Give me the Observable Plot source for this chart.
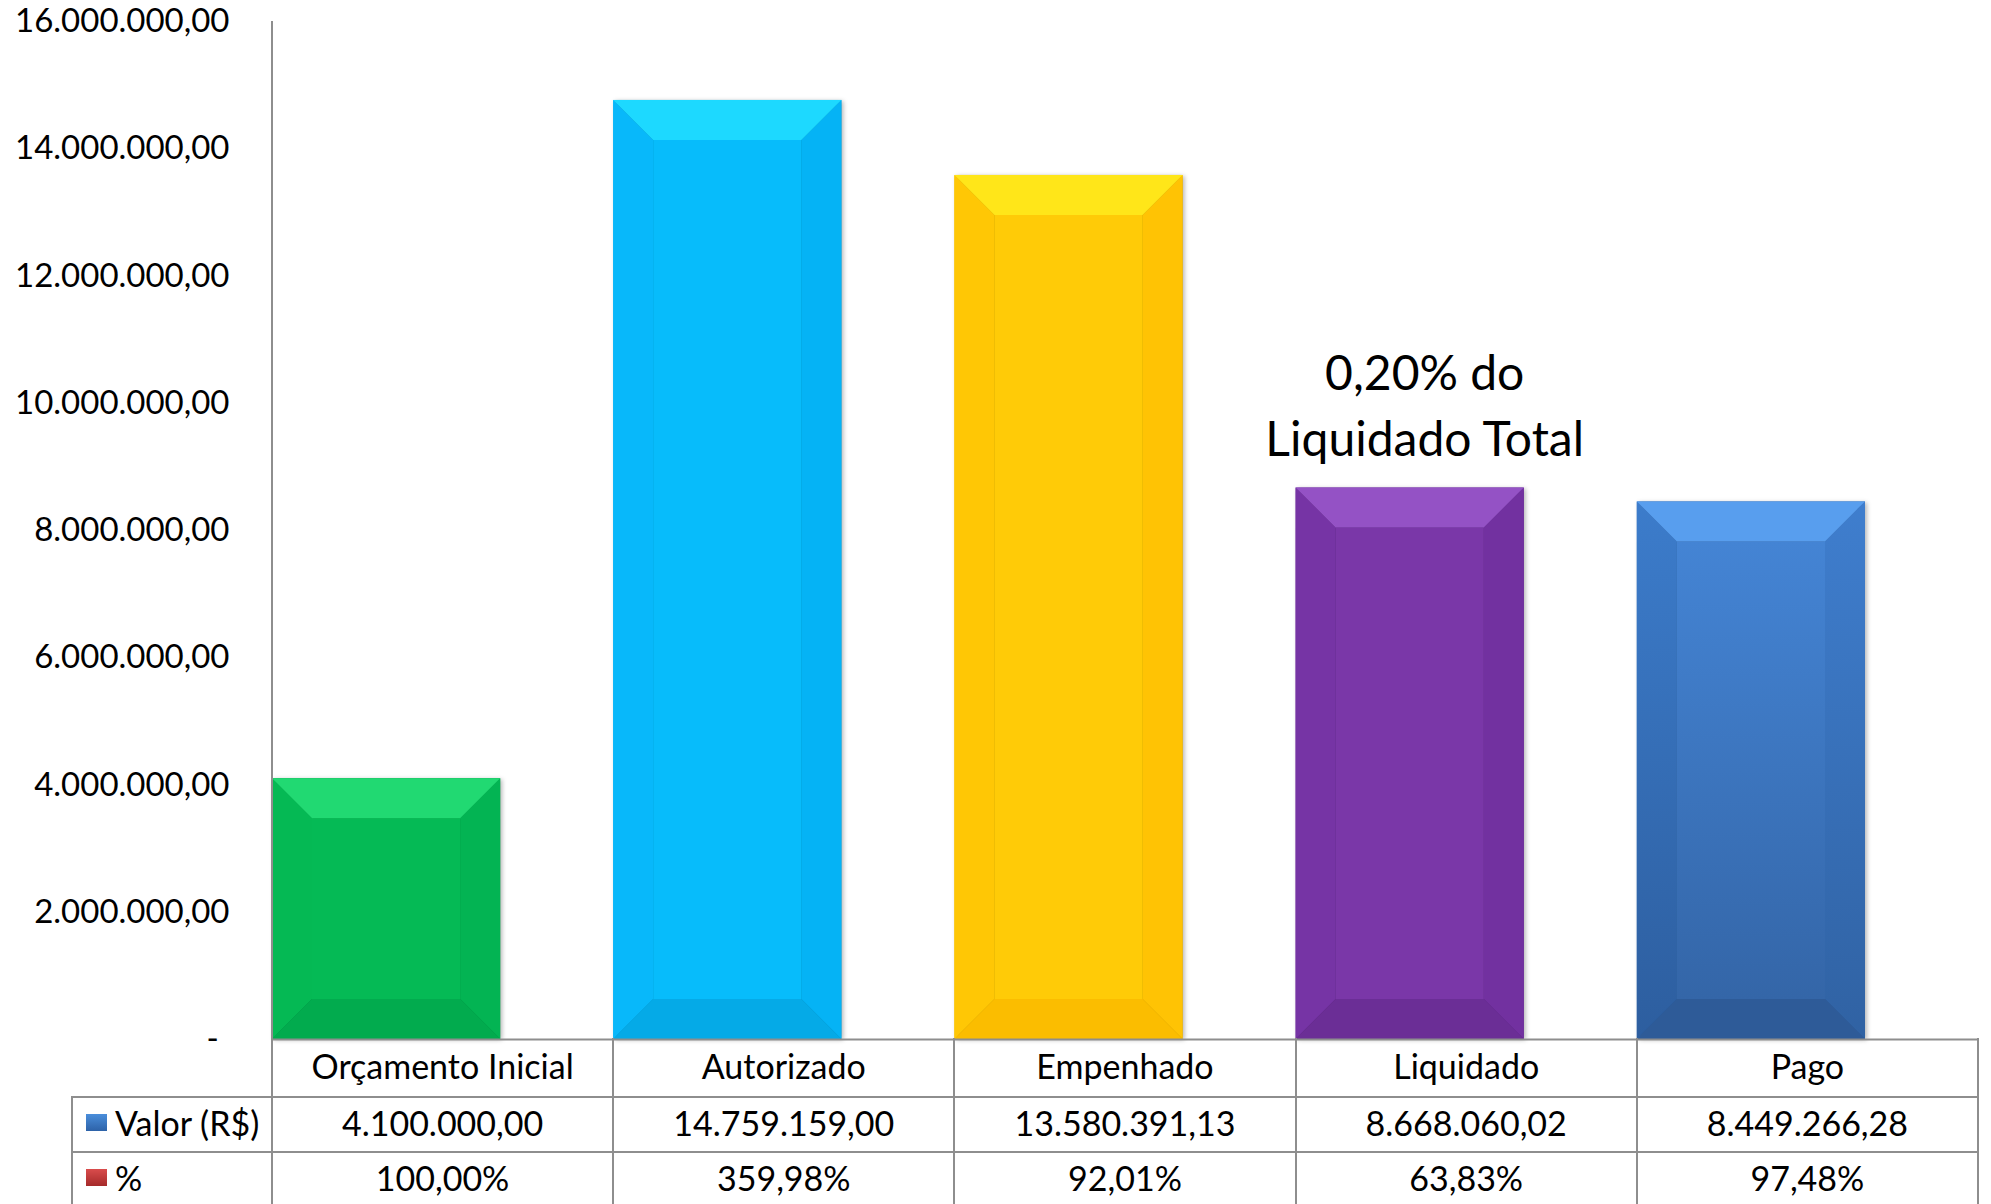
<!DOCTYPE html>
<html>
<head>
<meta charset="utf-8">
<script src="https://cdn.jsdelivr.net/npm/d3@7"></script>
<script src="https://cdn.jsdelivr.net/npm/@observablehq/plot@0.6"></script>
<style>
  html, body { margin: 0; padding: 0; background: #ffffff; }
  #wrap { position: relative; width: 1991px; height: 1204px; overflow: hidden; font-family: Lato, "Open Sans", sans-serif; color: #000; }
  #chart { position: absolute; left: 0; top: 0; }
  .hl, .vl { position: absolute; background: #8e8e8e; }
  .cell { position: absolute; display: flex; align-items: center; justify-content: center; font-size: 34px; white-space: nowrap; box-sizing: border-box; padding-bottom: 5px; }
  .rowlabel { position: absolute; display: flex; align-items: center; font-size: 34px; white-space: nowrap; box-sizing: border-box; padding-bottom: 5px; }
  .key { display: inline-block; width: 21px; height: 17px; margin-right: 8px; }
</style>
</head>
<body>
<div id="wrap"><div id="chart"></div></div>
<script>
// ---------------- data ----------------
const categories = ["Orçamento Inicial", "Autorizado", "Empenhado", "Liquidado", "Pago"];
const valores = [4100000.00, 14759159.00, 13580391.13, 8668060.02, 8449266.28];
const percentuais = [100.00, 359.98, 92.01, 63.83, 97.48];
const yTicks = [0, 2000000, 4000000, 6000000, 8000000, 10000000, 12000000, 14000000, 16000000];
const seriesLabels = ["Valor (R$)", "%"];
const annotationCategory = "Liquidado";
const annotationLines = ["0,20% do", "Liquidado Total"];

// ---------------- styles ----------------
const palettes = [
  {top: "#21D972", left: "#05B954", center: "#05BA55", right: "#03B453", bottom: "#02AB4E"},
  {top: "#1DD9FF", left: "#08B8FA", center: "#07BCFB", right: "#05B3F5", bottom: "#05AAE7"},
  {top: "#FFE619", left: "#FFC705", center: "#FFCB07", right: "#FFC304", bottom: "#FBBD00"},
  {top: "#9452C5", left: "#7634A5", center: "#7A37A8", right: "#7231A0", bottom: "#6B2E96"},
  {top: "#589EEE", left: ["#3C7CCB", "#2D5E9F"], center: ["#4484D4", "#3466A8"], right: ["#3F7ECE", "#3062A3"], bottom: "#2E5B98"}
];
const keyColors = [["#4A8EDB", "#2D62A8"], ["#D94C4C", "#A52A2A"]];
const BEVEL = 40;
const BAR_INSET_RIGHT = 113;
const GRID = "#8e8e8e";

const locale = d3.formatLocale({decimal: ",", thousands: ".", grouping: [3], currency: ["R$", ""]});
const fmtMoney = locale.format(",.2f");
const fmtPct = d => locale.format(",.2f")(d) + "%";

const data = categories.map((c, i) => ({cat: c, value: valores[i], i}));

function bevels(index, scales) {
  const {x, y} = scales;
  const g = d3.create("svg:g").style("filter", "drop-shadow(2px 1px 2px rgba(0,0,0,0.28))");
  const defs = g.append("defs");
  const fillOf = (c, name) => {
    if (!Array.isArray(c)) return c;
    const id = "grad-" + name;
    const lg = defs.append("linearGradient").attr("id", id).attr("x1", 0).attr("y1", 0).attr("x2", 0).attr("y2", 1);
    lg.append("stop").attr("offset", "0%").attr("stop-color", c[0]);
    lg.append("stop").attr("offset", "100%").attr("stop-color", c[1]);
    return `url(#${id})`;
  };
  const poly = (pts, fill) => g.append("polygon").attr("points", pts.map(p => p.join(",")).join(" ")).attr("fill", fill);
  data.forEach(d => {
    const p = palettes[d.i];
    const x0 = x(d.cat), x1 = x0 + x.bandwidth() - BAR_INSET_RIGHT;
    const y0 = y(0), yt = y(d.value), b = BEVEL;
    poly([[x0, yt], [x0 + b, yt + b], [x0 + b, y0 - b], [x0, y0]], fillOf(p.left, d.i + "l"));
    poly([[x1, yt], [x1, y0], [x1 - b, y0 - b], [x1 - b, yt + b]], fillOf(p.right, d.i + "r"));
    poly([[x0 + b, yt + b], [x1 - b, yt + b], [x1 - b, y0 - b], [x0 + b, y0 - b]], fillOf(p.center, d.i + "c"));
    poly([[x0, yt], [x1, yt], [x1 - b, yt + b], [x0 + b, yt + b]], fillOf(p.top, d.i + "t"));
    poly([[x0, y0], [x1, y0], [x1 - b, y0 - b], [x0 + b, y0 - b]], fillOf(p.bottom, d.i + "b"));
  });
  return g.node();
}

function axisLine(index, scales) {
  const {x, y} = scales;
  const x0 = x(categories[0]);
  return d3.create("svg:line")
    .attr("x1", x0).attr("x2", x0)
    .attr("y1", y(yTicks[yTicks.length - 1])).attr("y2", y(0))
    .attr("stroke", GRID).attr("stroke-width", 2).node();
}

const chart = Plot.plot({
  width: 1991,
  height: 1204,
  marginLeft: 272,
  marginRight: 13,
  marginTop: 21,
  marginBottom: 165,
  style: {fontFamily: "Lato, 'Open Sans', sans-serif", fontSize: "33px", color: "#000", background: "transparent", overflow: "visible"},
  x: {type: "band", domain: categories, padding: 0, round: false, axis: null},
  y: {domain: [0, 16000000], ticks: yTicks, tickFormat: d => d === 0 ? "" : fmtMoney(d), tickSize: 0, tickPadding: 43, label: null},
  marks: [
    Plot.barY(data, {x: "cat", y: "value", fill: d => Array.isArray(palettes[d.i].left) ? palettes[d.i].left[0] : palettes[d.i].left, insetRight: BAR_INSET_RIGHT}),
    bevels,
    axisLine,
    Plot.ruleY([0], {stroke: GRID, strokeWidth: 2}),
    Plot.text([0], {y: d => d, text: () => "-", frameAnchor: "left", dx: -66, fontSize: 33, fill: "#000"}),
    Plot.text(data.filter(d => d.cat === annotationCategory), {x: "cat", y: "value", text: () => annotationLines.join("\n"), dx: -42, dy: -86, lineAnchor: "middle", lineHeight: 1.36, fontSize: 48, fill: "#000"})
  ]
});
document.getElementById("chart").appendChild(chart);

// ---------------- data table ----------------
const wrap = document.getElementById("wrap");
const left0 = 72, plotLeft = 272, plotRight = 1978;
const colW = (plotRight - plotLeft) / categories.length;
const rows = [1039, 1097, 1152, 1207];
function line(cls, l, t, w, h) {
  const el = document.createElement("div"); el.className = cls;
  Object.assign(el.style, {left: l + "px", top: t + "px", width: w + "px", height: h + "px"});
  wrap.appendChild(el);
}
line("hl", left0 - 1, rows[1] - 1, plotRight - left0 + 2, 2);
line("hl", left0 - 1, rows[2] - 1, plotRight - left0 + 2, 2);
line("vl", left0 - 1, rows[1] - 1, 2, 1204 - rows[1] + 1);
for (let k = 0; k <= categories.length; k++) {
  const xx = plotLeft + k * colW;
  line("vl", xx - 1, rows[0] - 1, 2, 1204 - rows[0] + 1);
}
function cell(text, k, r) {
  const el = document.createElement("div"); el.className = "cell"; el.textContent = text;
  Object.assign(el.style, {left: (plotLeft + k * colW) + "px", top: rows[r] + "px", width: colW + "px", height: (rows[r + 1] - rows[r]) + "px"});
  wrap.appendChild(el);
}
categories.forEach((c, k) => cell(c, k, 0));
valores.forEach((v, k) => cell(fmtMoney(v), k, 1));
percentuais.forEach((v, k) => cell(fmtPct(v), k, 2));
seriesLabels.forEach((s, r) => {
  const el = document.createElement("div"); el.className = "rowlabel";
  Object.assign(el.style, {left: "86px", top: rows[r + 1] + "px", height: (rows[r + 2] - rows[r + 1]) + "px"});
  const key = document.createElement("span"); key.className = "key";
  key.style.background = `linear-gradient(${keyColors[r][0]}, ${keyColors[r][1]})`;
  el.appendChild(key);
  el.appendChild(document.createTextNode(s));
  wrap.appendChild(el);
});
</script>
</body>
</html>
